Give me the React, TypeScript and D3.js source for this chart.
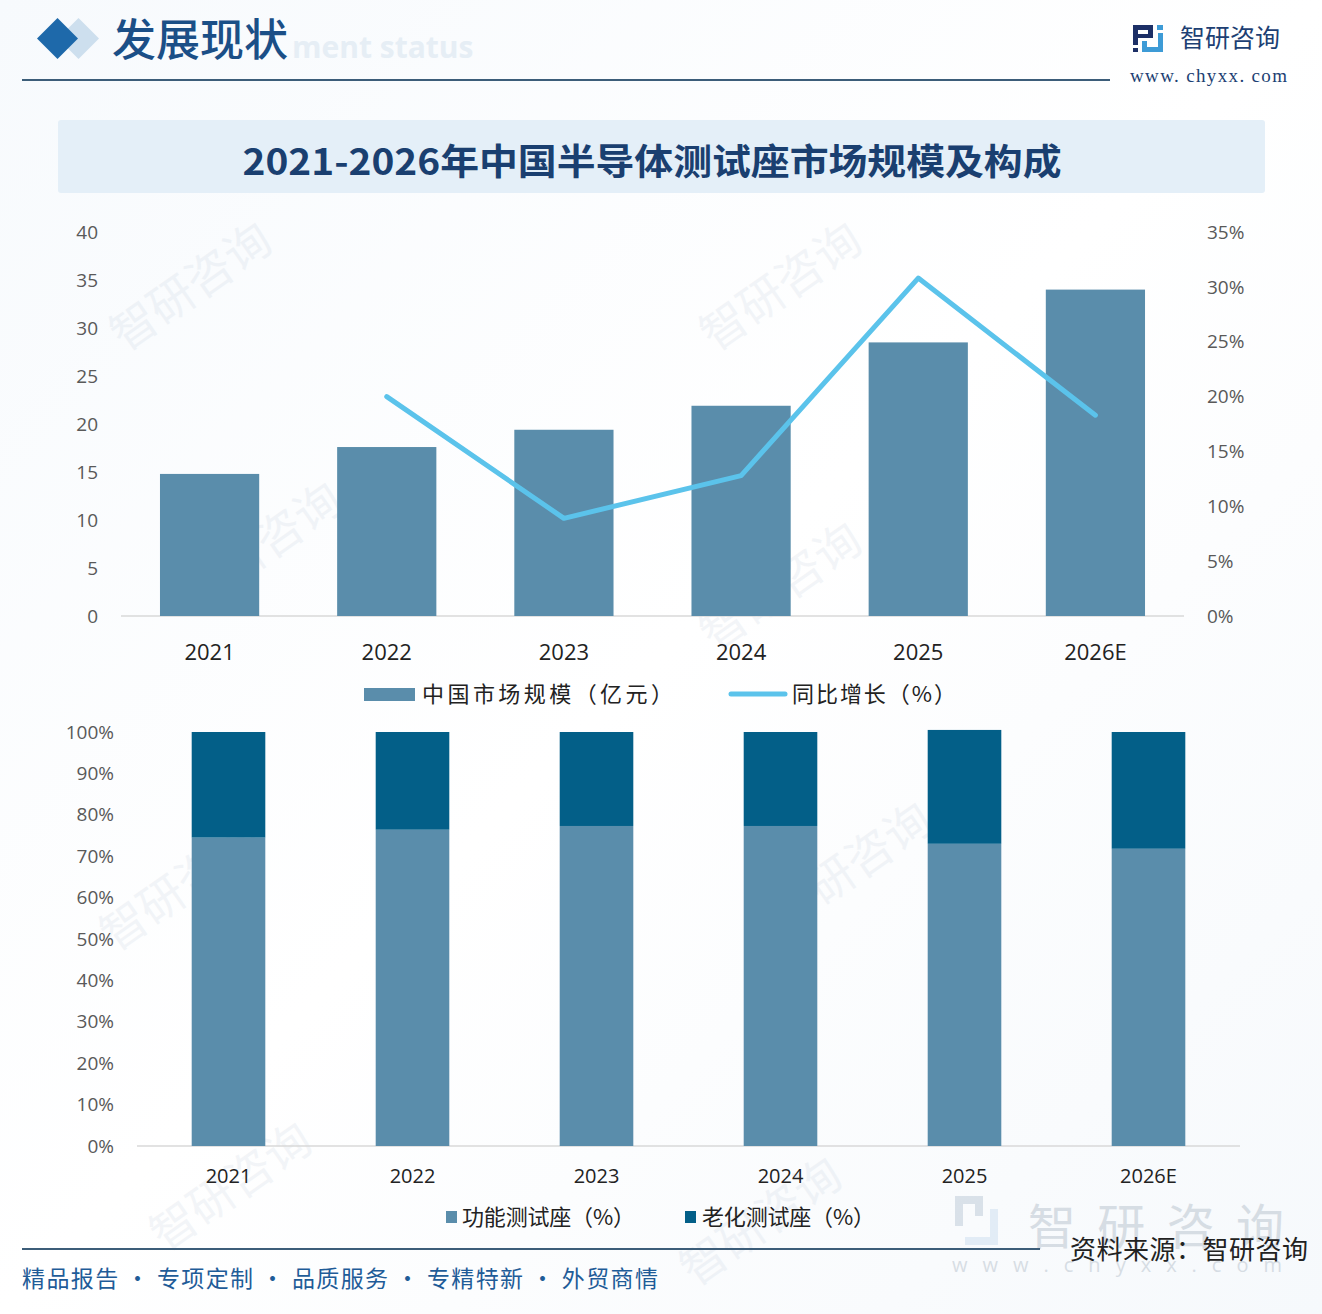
import React from "react";
import * as d3 from "d3";

const years = ["2021", "2022", "2023", "2024", "2025", "2026E"];
const marketSize = [14.8, 17.6, 19.4, 21.9, 28.5, 34.0];
const growthRate = [null, 0.2, 0.089, 0.128, 0.308, 0.183];
const functionalShare = [0.745, 0.764, 0.773, 0.773, 0.73, 0.718];
const agingShare = [0.255, 0.236, 0.227, 0.227, 0.275, 0.282];
const leftTicks = [0, 5, 10, 15, 20, 25, 30, 35, 40];
const rightTicks = [0, 0.05, 0.1, 0.15, 0.2, 0.25, 0.3, 0.35];
const pctTicks = [0, 0.1, 0.2, 0.3, 0.4, 0.5, 0.6, 0.7, 0.8, 0.9, 1.0];

const title = "2021-2026年中国半导体测试座市场规模及构成";
const legendTop = ["中国市场规模（亿元）", "同比增长（%）"];
const legendBottom = ["功能测试座（%）", "老化测试座（%）"];
const footerText = "精品报告 · 专项定制 · 品质服务 · 专精特新 · 外贸商情";
const sourceText = "资料来源：智研咨询";

const BAR = "#5A8DAB";
const DARK = "#035F88";
const LINE = "#5BC3EB";
const NAVY = "#1D3F73";
const CJK = "'Noto Sans CJK SC', 'Noto Sans', sans-serif";
const NUM = "'Open Sans', 'Noto Sans', sans-serif";

export default function App() {
  const W = 1322;
  const H = 1314;

  // top chart scales
  const xTop = d3.scaleBand<string>().domain(years).range([121, 1184]).paddingInner(0.44).paddingOuter(0.22);
  const yLeft = d3.scaleLinear().domain([0, 40]).range([616, 232]);
  const yRight = d3.scaleLinear().domain([0, 0.35]).range([616, 232]);
  const linePts = years
    .map((y, i) => ({ y, v: growthRate[i] }))
    .filter((d) => d.v !== null) as { y: string; v: number }[];
  const lineGen = d3
    .line<{ y: string; v: number }>()
    .x((d) => (xTop(d.y) as number) + xTop.bandwidth() / 2)
    .y((d) => yRight(d.v));

  // bottom chart scales
  const xBot = d3.scaleBand<string>().domain(years).range([136.5, 1240.5]).paddingInner(0.6).paddingOuter(0.3);
  const yPct = d3.scaleLinear().domain([0, 1]).range([1146, 732]);

  const watermarks = [
    { x: 200, y: 300 },
    { x: 790, y: 300 },
    { x: 270, y: 560 },
    { x: 790, y: 600 },
    { x: 190, y: 900 },
    { x: 860, y: 880 },
    { x: 240, y: 1200 },
    { x: 770, y: 1235 },
  ];

  return (
    <div style={{ position: "absolute", left: 0, top: 0, width: W, height: H, background: "#fff" }}>
      <svg width={W} height={H} viewBox={`0 0 ${W} ${H}`} style={{ display: "block" }}>
        <defs>
          <linearGradient id="bg" x1="0" y1="0" x2="1" y2="1">
            <stop offset="0" stopColor="#f7fafd" />
            <stop offset="0.5" stopColor="#ffffff" />
            <stop offset="1" stopColor="#f6f9fc" />
          </linearGradient>
        </defs>
        <rect x={0} y={0} width={W} height={H} fill="url(#bg)" />

        {/* watermarks */}
        {watermarks.map((w, i) => (
          <text
            key={i}
            x={w.x}
            y={w.y}
            transform={`rotate(-35 ${w.x} ${w.y})`}
            fontFamily={CJK}
            fontSize={46}
            fill="#8fa6bd"
            opacity={0.1}
            textAnchor="middle"
          >
            智研咨询
          </text>
        ))}

        {/* header */}
        <text x={292} y={58} fontFamily={NUM} fontWeight={700} fontSize={30} fill="#e6eef5">
          ment status
        </text>
        <rect x={64} y={24} width={29} height={29} fill="#cddfee" transform="rotate(45 78.5 38.5)" />
        <rect x={43} y={24} width={29} height={29} fill="#1E69AA" transform="rotate(45 57.5 38.5)" />
        <text x={112} y={56} fontFamily="'Noto Sans CJK SC', serif" fontWeight={500} fontSize={44} fill="#1B4F87">
          发展现状
        </text>
        <line x1={22} y1={80} x2={1110} y2={80} stroke="#3C5D79" strokeWidth={2} />

        {/* logo */}
        <g>
          <rect x={1133} y={25} width={20} height={5} fill="#1C2F66" />
          <rect x={1133} y={25} width={5} height={20} fill="#1C2F66" />
          <rect x={1148} y={25} width={5} height={13} fill="#1C2F66" />
          <rect x={1138} y={34} width={12} height={4} fill="#1C2F66" />
          <rect x={1133} y={48} width={5} height={4} fill="#1C2F66" />
          <rect x={1157} y={25} width={6} height={5} fill="#3D9BD6" />
          <rect x={1158} y={33} width={5} height={19} fill="#3D9BD6" />
          <rect x={1142} y={47} width={21} height={5} fill="#3D9BD6" />
          <rect x={1142} y={41} width={5} height={10} fill="#3D9BD6" />
        </g>
        <text x={1180} y={47} fontFamily={CJK} fontSize={25} fill={NAVY}>
          智研咨询
        </text>
        <text x={1130} y={82} fontFamily="'Liberation Serif', 'DejaVu Serif', serif" fontSize={19} fill={NAVY} textLength={157} lengthAdjust="spacing">
          www. chyxx. com
        </text>

        {/* title box */}
        <rect x={58} y={120} width={1207} height={73} rx={3} fill="#E4EFF8" />
        <text
          x={652}
          y={175}
          textAnchor="middle"
          fontFamily={CJK}
          fontWeight={700}
          fontSize={36}
          fill="#1A3F70"
          textLength={819}
          lengthAdjust="spacingAndGlyphs"
        >
          {title}
        </text>

        {/* top chart */}
        <line x1={121} x2={1184} y1={616} y2={616} stroke="#d9d9d9" strokeWidth={1.5} />
        {years.map((y, i) => (
          <rect
            key={y}
            x={xTop(y)}
            y={yLeft(marketSize[i])}
            width={xTop.bandwidth()}
            height={yLeft(0) - yLeft(marketSize[i])}
            fill={BAR}
          />
        ))}
        <path d={lineGen(linePts) || ""} fill="none" stroke={LINE} strokeWidth={5} strokeLinejoin="round" strokeLinecap="round" />
        {leftTicks.map((t) => (
          <text key={t} x={98} y={yLeft(t)} dy="0.35em" textAnchor="end" fontFamily={NUM} fontSize={19} fill="#595959">
            {t}
          </text>
        ))}
        {rightTicks.map((t) => (
          <text key={t} x={1207} y={yRight(t)} dy="0.35em" textAnchor="start" fontFamily={NUM} fontSize={19} fill="#595959">
            {d3.format(".0%")(t)}
          </text>
        ))}
        {years.map((y) => (
          <text
            key={y}
            x={(xTop(y) as number) + xTop.bandwidth() / 2}
            y={652}
            dy="0.35em"
            textAnchor="middle"
            fontFamily={NUM}
            fontSize={22}
            fill="#222"
          >
            {y}
          </text>
        ))}
        {/* top legend */}
        <rect x={364} y={688} width={51} height={13} fill={BAR} />
        <text x={422} y={694} dy="0.35em" fontFamily={CJK} fontSize={22} fill="#222" textLength={251} lengthAdjust="spacing">
          {legendTop[0]}
        </text>
        <line x1={731} x2={785} y1={694} y2={694} stroke={LINE} strokeWidth={5} strokeLinecap="round" />
        <text x={792} y={694} dy="0.35em" fontFamily={CJK} fontSize={22} fill="#222" textLength={164} lengthAdjust="spacing">
          {legendTop[1]}
        </text>

        {/* bottom chart */}
        <line x1={137} x2={1240} y1={1146} y2={1146} stroke="#d9d9d9" strokeWidth={1.5} />
        {years.map((y, i) => (
          <g key={y}>
            <rect
              x={xBot(y)}
              y={yPct(functionalShare[i])}
              width={xBot.bandwidth()}
              height={yPct(0) - yPct(functionalShare[i])}
              fill={BAR}
            />
            <rect
              x={xBot(y)}
              y={yPct(functionalShare[i] + agingShare[i])}
              width={xBot.bandwidth()}
              height={yPct(functionalShare[i]) - yPct(functionalShare[i] + agingShare[i])}
              fill={DARK}
            />
          </g>
        ))}
        {pctTicks.map((t) => (
          <text key={t} x={114} y={yPct(t)} dy="0.35em" textAnchor="end" fontFamily={NUM} fontSize={19} fill="#595959">
            {d3.format(".0%")(t)}
          </text>
        ))}
        {years.map((y) => (
          <text
            key={y}
            x={(xBot(y) as number) + xBot.bandwidth() / 2}
            y={1176}
            dy="0.35em"
            textAnchor="middle"
            fontFamily={NUM}
            fontSize={20}
            fill="#222"
          >
            {y}
          </text>
        ))}

        {/* bottom-right big watermark */}
        <g opacity={0.35}>
          <rect x={955} y={1196} width={28} height={8} fill="#9fb3c6" />
          <rect x={955} y={1196} width={8} height={30} fill="#9fb3c6" />
          <rect x={975} y={1196} width={8} height={20} fill="#9fb3c6" />
          <rect x={990} y={1209} width={8} height={36} fill="#b9d3ea" />
          <rect x={965} y={1237} width={33} height={8} fill="#b9d3ea" />
          <text x={1028} y={1244} fontFamily={CJK} fontSize={48} fill="#9aa8b6" textLength={256} lengthAdjust="spacing">
            智研咨询
          </text>
          <text x={952} y={1272} fontFamily={NUM} fontSize={20} fill="#9aa8b6" textLength={330} lengthAdjust="spacing">
            www.chyxx.com
          </text>
        </g>

        {/* bottom legend */}
        <rect x={446} y={1211} width={11} height={12} fill={BAR} />
        <text x={462} y={1217} dy="0.35em" fontFamily={CJK} fontSize={22} fill="#222" textLength={173} lengthAdjust="spacing">
          {legendBottom[0]}
        </text>
        <rect x={685} y={1211} width={11} height={12} fill={DARK} />
        <text x={702} y={1217} dy="0.35em" fontFamily={CJK} fontSize={22} fill="#222" textLength={173} lengthAdjust="spacing">
          {legendBottom[1]}
        </text>

        {/* footer */}
        <line x1={22} y1={1249} x2={1040} y2={1249} stroke="#3C5D79" strokeWidth={2} />
        <text x={22} y={1287} fontFamily={CJK} fontSize={23} fill="#1F5C98" textLength={636} lengthAdjust="spacing">
          {footerText}
        </text>
        <text x={1070} y={1259} fontFamily={CJK} fontSize={26} fill="#222" textLength={238} lengthAdjust="spacing">
          {sourceText}
        </text>
      </svg>
    </div>
  );
}
